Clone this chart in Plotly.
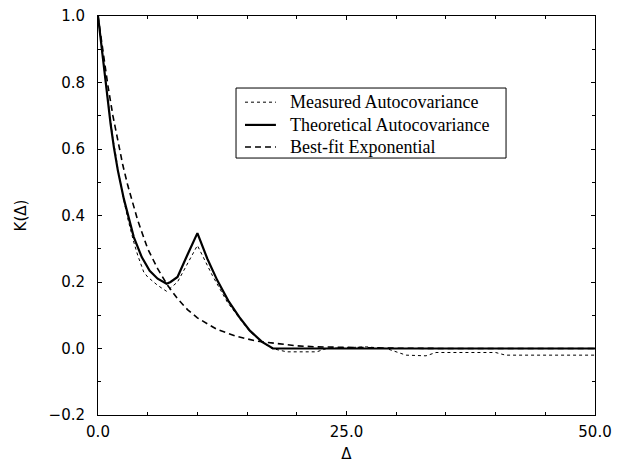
import plotly.graph_objects as go

# Measured autocovariance (dotted)
meas_x = [0, 0.25, 0.5, 0.75, 1.0, 1.25, 1.5, 1.75, 2.0, 2.5, 3.0, 3.6, 4.0, 4.6, 5.0, 6.0, 6.9, 8.0, 10.0, 11.5, 13.0, 14.5, 15.3, 16.5, 17.5,
          19.0, 22.0, 23.0, 27.0, 29.0, 31.0, 33.0, 34.0, 40.0, 41.0, 50.0]
meas_y = [1.0, 0.935, 0.86, 0.805, 0.745, 0.69, 0.63, 0.59, 0.54, 0.46, 0.39, 0.32, 0.28, 0.23, 0.215, 0.19, 0.172, 0.20, 0.31, 0.22, 0.14, 0.08, 0.05, 0.02, 0.0,
          -0.01, -0.01, 0.0, 0.005, 0.0, -0.02, -0.022, -0.012, -0.012, -0.02, -0.02]

# Theoretical autocovariance (solid)
theo_x = [0, 0.3, 0.6, 1.0, 1.27, 1.6, 2.0, 2.6, 3.1, 3.6, 4.4, 5.2, 6.0, 6.9, 7.3, 8.0, 9.0, 10.0,
          11.0, 12.0, 13.1, 14.2, 15.3, 16.5, 17.6, 50.0]
theo_y = [1.0, 0.92, 0.848, 0.74, 0.675, 0.605, 0.535, 0.45, 0.39, 0.335, 0.275, 0.234, 0.21, 0.195, 0.2, 0.215, 0.282, 0.347,
          0.27, 0.205, 0.144, 0.095, 0.053, 0.02, 0.0, 0.0]

# Best-fit exponential (dashed)
fit_x = [0, 0.5, 1, 1.5, 2, 2.5, 3, 4, 5, 6, 7, 8, 9, 10, 12, 14, 16, 18, 20, 22, 25, 30, 35, 50]
fit_y = [1.0, 0.888, 0.79, 0.70, 0.62, 0.551, 0.49, 0.385, 0.30, 0.24, 0.19, 0.15, 0.117, 0.092, 0.057, 0.036, 0.022, 0.014,
         0.008, 0.005, 0.003, 0.001, 0.0, 0.0]

series_names = ["Measured Autocovariance", "Theoretical Autocovariance", "Best-fit Exponential"]
series_styles = [dict(color="black", width=1, dash="dot"),
                 dict(color="black", width=2.2),
                 dict(color="black", width=1.6, dash="6px,4px")]

x_ticks = [0, 25, 50]
x_ticklabels = ["0.0", "25.0", "50.0"]

fig = go.Figure()
for xs, ys, name, style in zip([meas_x, theo_x, fit_x], [meas_y, theo_y, fit_y], series_names, series_styles):
    fig.add_trace(go.Scatter(x=xs, y=ys, mode="lines", name=name, line=style, showlegend=False))

# Legend drawn as a boxed key (tight spacing like the reference)
box = dict(x0=0.2777, x1=0.821, y0=0.644, y1=0.8195)
fig.add_shape(type="rect", xref="paper", yref="paper", line=dict(color="black", width=1),
              fillcolor="white", layer="above", **box)
entry_y = [0.784, 0.727, 0.6717]
for yy, name, style in zip(entry_y, series_names, series_styles):
    fig.add_shape(type="line", xref="paper", yref="paper", x0=0.2958, x1=0.358, y0=yy, y1=yy,
                  line=style, layer="above")
    fig.add_annotation(xref="paper", yref="paper", x=0.3823, y=yy, text=name, showarrow=False,
                       xanchor="left", yanchor="middle",
                       font=dict(family="Liberation Serif, Times New Roman", size=18, color="black"))

tick_font = dict(family="DejaVu Sans, Verdana", size=15, color="black")
axis_common = dict(showgrid=False, zeroline=False, showline=True, linecolor="black", linewidth=1,
                   mirror="ticks", ticks="inside", ticklen=4, tickcolor="black",
                   tickfont=tick_font, automargin=False)

fig.update_xaxes(range=[0, 50], tickvals=x_ticks, ticktext=x_ticklabels, ticklabelstandoff=3,
                 minor=dict(dtick=5, tick0=0, ticks="inside", ticklen=3, tickcolor="black"),
                 title=dict(text="Δ", font=dict(family="DejaVu Sans", size=15, color="black"), standoff=8),
                 **axis_common)
fig.update_yaxes(range=[-0.2, 1.0], dtick=0.2, tick0=0, tickformat=".1f", ticklabelstandoff=9,
                 minor=dict(dtick=0.1, tick0=0, ticks="inside", ticklen=3, tickcolor="black"),
                 title=dict(text="K(Δ)", font=dict(family="DejaVu Sans", size=15, color="black"), standoff=18),
                 **axis_common)

fig.update_layout(
    width=624, height=463,
    margin=dict(l=98, r=29, t=16, b=48),
    paper_bgcolor="white", plot_bgcolor="white",
    showlegend=False,
)

fig.write_html("out.html", config={"displayModeBar": False},
               post_script="document.body.style.margin='0';")
